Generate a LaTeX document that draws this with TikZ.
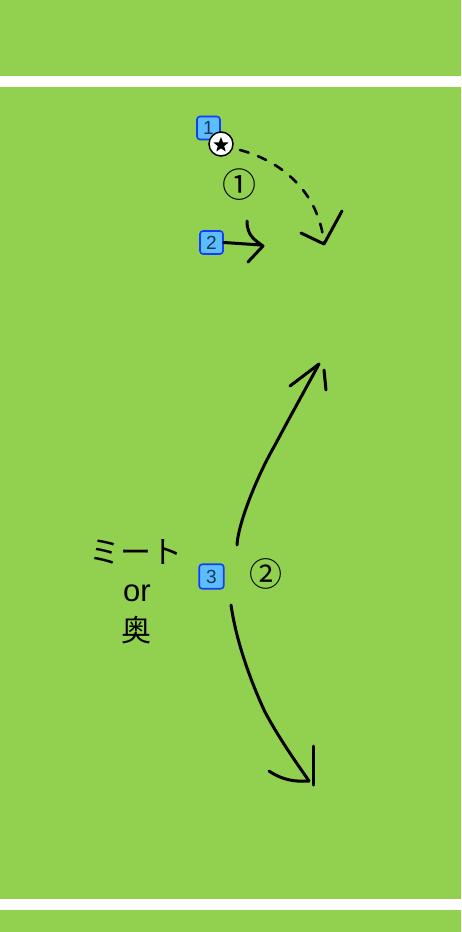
\documentclass[tikz,border=0pt]{standalone}
\usepackage{fontspec}
\setmainfont{Liberation Sans}
\newfontfamily\cjk{Noto Sans CJK JP}
\usetikzlibrary{shapes.geometric}
\definecolor{grass}{RGB}{146,208,80}
\definecolor{plfill}{RGB}{90,190,255}
\definecolor{plborder}{RGB}{20,60,255}
\definecolor{plnum}{RGB}{25,50,90}
\tikzset{
  player/.style={draw=plborder, line width=1.6pt, fill=plfill, rounded corners=3pt,
    minimum width=23pt, minimum height=23pt, inner sep=0pt, text=plnum, font=\fontsize{19}{19}\selectfont},
  stroke/.style={line width=3pt, line cap=round, line join=round, black},
  dashstroke/.style={line width=2.6pt, line cap=round, black, dash pattern=on 9pt off 10pt},
  lbl/.style={inner sep=0pt, text=black},
}
\begin{document}
\begin{tikzpicture}[x=1pt,y=-1pt]
\useasboundingbox (0,0) rectangle (461,932);
\fill[grass] (0,0) rectangle (461,932);
\fill[white] (0,76) rectangle (461,87);
\fill[white] (0,899) rectangle (461,910);

% players
\node[player] (p1) at (208.5,128) {1};
\node[player] (p2) at (211.5,242.5) {2};
\node[player, minimum width=24.5pt, minimum height=24.5pt] (p3) at (211.5,576.5) {3};

% ball
\node[circle, draw=black, line width=1.5pt, fill=white, minimum size=24pt, inner sep=0pt] (ball) at (221,144) {};
\node[star, star points=5, star point ratio=2.4, fill=black, minimum size=16pt, inner sep=0pt] (starb) at (221,145) {};

% labels
\node[lbl, font=\cjk\fontsize{34}{34}\selectfont] (c1) at (239,185) {①};
\node[lbl, font=\cjk\fontsize{33}{33}\selectfont] (c2) at (266,574) {②};
\node[lbl, font=\cjk\fontsize{31}{31}\selectfont] (mito) at (136,552) {ミート};
\node[lbl, font=\fontsize{31}{31}\selectfont] (or) at (137,593) {or};
\node[lbl, font=\cjk\fontsize{30}{30}\selectfont] (oku) at (136,630) {奥};

% coordinates for hand-drawn strokes
\coordinate (d0) at (240,150);
\coordinate (dtip) at (324,244);
\coordinate (u0) at (237,545);
\coordinate (utip) at (319,364);
\coordinate (w0) at (231,605);
\coordinate (wtip) at (309,781);

% dashed pass from ball
\draw[dashstroke] (d0) .. controls (288,163) and (320,198) .. (dtip);
\draw[stroke] (301,233) -- (dtip) -- (342,211);

% run of player 2
\draw[stroke] (p2.east) -- (261,245);
\draw[stroke] (247,221) .. controls (247,236) and (255,240) .. (263,246) -- (248,262);

% up run of player 3
\draw[stroke] (u0) .. controls (238,525) and (255,480) .. (275,445)
  .. controls (292,413) and (305,390) .. (utip);
\draw[stroke] (290,386) -- (utip);
\draw[stroke] (324,370) -- (326,390);

% down run of player 3
\draw[stroke] (w0) .. controls (236,640) and (250,680) .. (265,712)
  .. controls (280,740) and (298,765) .. (wtip);
\draw[stroke] (269,771) .. controls (282,780) and (295,782) .. (wtip);
\draw[stroke] (313,746) -- (313,785);
\end{tikzpicture}
\end{document}
